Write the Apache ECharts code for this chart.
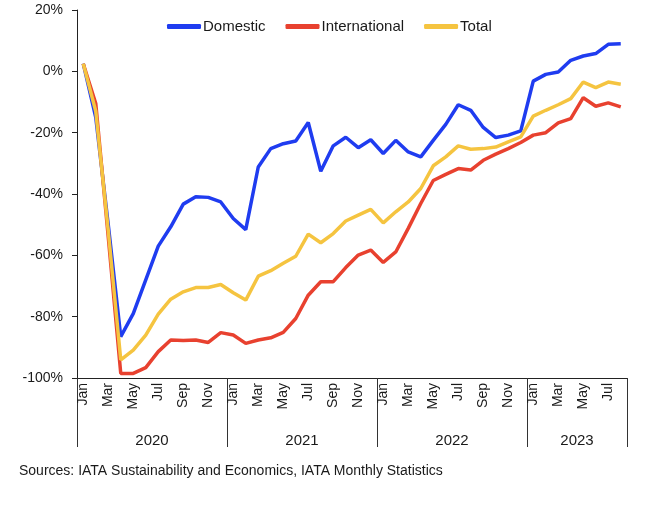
<!DOCTYPE html>
<html>
<head>
<meta charset="utf-8">
<script src="https://cdn.jsdelivr.net/npm/echarts@6/dist/echarts.min.js"></script>
<style>html,body{margin:0;padding:0;background:#fff}#c{width:654px;height:506px}</style>
</head>
<body>
<div id="c"></div>
<script>
const years = ['2020', '2021', '2022', '2023'];
const monthNames = ['Jan','Feb','Mar','Apr','May','Jun','Jul','Aug','Sep','Oct','Nov','Dec'];
const monthsPerYear = [12, 12, 12, 8];
const yTicks = { min: -100, max: 20, step: 20 };
const seriesNames = ['Domestic', 'International', 'Total'];

const domestic = [2.5, -15, -50, -86.5, -79, -68, -57, -50.7, -43.3, -40.9, -41.1, -42.6,
  -48, -51.6, -31.2, -25.2, -23.6, -22.7, -16.7, -32.6, -24.3, -21.5, -24.9, -22.3,
  -26.8, -22.5, -26.3, -27.9, -22.5, -17.3, -10.9, -12.7, -18.3, -21.6, -20.8, -19.4,
  -3.2, -1, -0.2, 3.6, 5, 5.8, 8.8, 9.0];
const international = [2.5, -10.5, -54, -98.5, -98.5, -96.6, -91.4, -87.6, -87.8, -87.6, -88.4, -85.2,
  -86, -88.7, -87.6, -86.9, -85.1, -80.6, -73, -68.6, -68.6, -64, -59.9, -58.3,
  -62.3, -58.9, -51.2, -43.1, -35.6, -33.6, -31.7, -32.2, -29, -27, -25.2, -23.2,
  -20.8, -20, -16.8, -15.4, -8.6, -11.4, -10.3, -11.6];
const total = [2.5, -13, -52, -94.1, -90.9, -86, -79.2, -74.3, -71.9, -70.5, -70.5, -69.5,
  -72.2, -74.6, -66.8, -65, -62.6, -60.3, -53.1, -55.9, -52.9, -48.8, -46.9, -45,
  -49.4, -45.8, -42.6, -38.2, -30.8, -27.9, -24.3, -25.4, -25.2, -24.7, -23, -21.4,
  -14.6, -12.7, -10.9, -8.9, -3.5, -5.3, -3.5, -4.2];
const sourceText = 'Sources: IATA Sustainability and Economics, IATA Monthly Statistics';

// month categories
const categories = [];
years.forEach((y, i) => {
  for (let m = 0; m < monthsPerYear[i]; m++) categories.push(monthNames[m] + ' ' + y);
});
// half-month slots for the year grouping axis
const totalMonths = categories.length;
const slots = [];
for (let k = 0; k <= totalMonths * 2; k++) slots.push(String(k));
const boundaryIdx = [0];
const labelIdx = {};
let acc = 0;
years.forEach((y, i) => {
  labelIdx[acc + monthsPerYear[i]] = y;
  acc += monthsPerYear[i] * 2;
  boundaryIdx.push(acc);
});

const font = '"Liberation Sans", Arial, sans-serif';
const txt = '#1a1a1a';
const colors = ['#1f3cf0', '#e8412f', '#f5c440'];

const chart = echarts.init(document.getElementById('c'), null, { renderer: 'canvas' });
chart.setOption({
  animation: false,
  color: colors,
  textStyle: { fontFamily: font, color: txt },
  title: {
    text: sourceText, left: 14, top: 459,
    textStyle: { fontFamily: font, fontSize: 14, fontWeight: 'normal', color: txt }
  },
  legend: {
    top: 14, left: 162, itemWidth: 34, itemHeight: 5, itemGap: 20,
    icon: 'roundRect',
    textStyle: { fontFamily: font, fontSize: 15, color: txt, padding: [0, 0, 0, -3] },
    data: seriesNames
  },
  grid: { left: 77, right: 27, top: 10, bottom: 128, containLabel: false },
  xAxis: [{
    type: 'category', data: categories, boundaryGap: true,
    axisLine: { onZero: false, lineStyle: { color: '#222', width: 1 } },
    axisTick: { show: false },
    axisLabel: {
      interval: 1, rotate: 90, margin: 5, fontSize: 14, color: txt, fontFamily: font,
      formatter: v => v.split(' ')[0]
    }
  }, {
    type: 'category', data: slots, boundaryGap: false, position: 'bottom',
    axisLine: { show: false, onZero: false },
    axisTick: {
      show: true, length: 69, lineStyle: { color: '#333', width: 1 },
      interval: (idx) => boundaryIdx.indexOf(idx) >= 0
    },
    axisLabel: {
      show: true, margin: 55, fontSize: 15, color: txt, fontFamily: font,
      interval: (idx) => labelIdx[idx] !== undefined,
      formatter: (v, idx) => labelIdx[idx] || ''
    },
    splitLine: { show: false }
  }],
  yAxis: {
    type: 'value', min: yTicks.min, max: yTicks.max, interval: yTicks.step,
    axisLine: { show: true, lineStyle: { color: '#222', width: 1 } },
    axisTick: { show: true, length: 5, lineStyle: { color: '#222' } },
    splitLine: { show: false },
    axisLabel: { formatter: '{value}%', fontSize: 14, color: txt, margin: 14, fontFamily: font }
  },
  series: [
    { name: seriesNames[0], type: 'line', data: domestic, showSymbol: false, lineStyle: { width: 3.5 }, xAxisIndex: 0 },
    { name: seriesNames[1], type: 'line', data: international, showSymbol: false, lineStyle: { width: 3.5 }, xAxisIndex: 0 },
    { name: seriesNames[2], type: 'line', data: total, showSymbol: false, lineStyle: { width: 3.5 }, xAxisIndex: 0 }
  ]
});
</script>
</body>
</html>
